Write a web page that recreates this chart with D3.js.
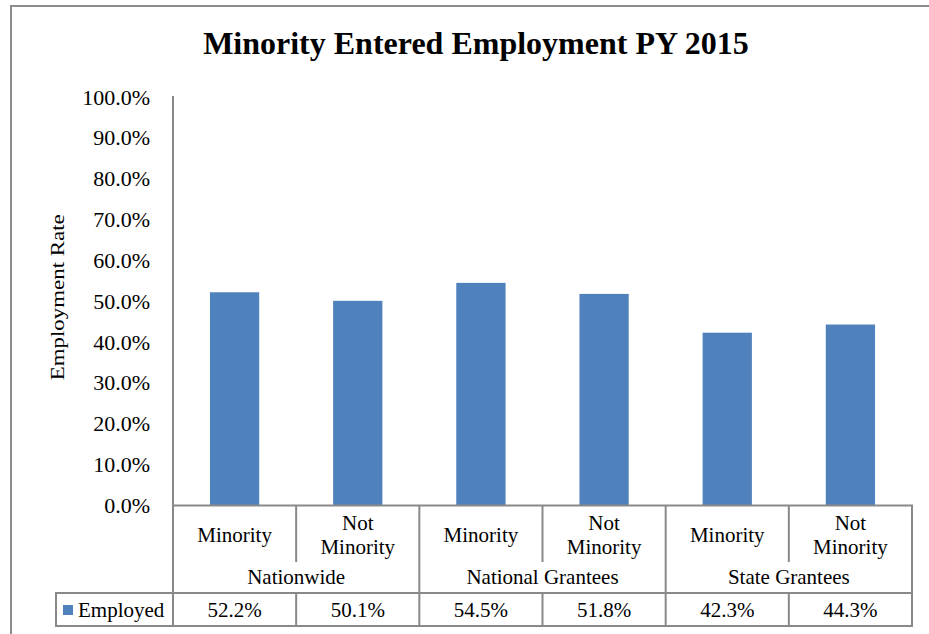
<!DOCTYPE html>
<html>
<head>
<meta charset="utf-8">
<script src="https://cdn.jsdelivr.net/npm/d3@7/dist/d3.min.js"></script>
<style>
  html, body { margin: 0; padding: 0; background: #fff; }
  svg { display: block; }
  text { font-family: "Liberation Serif", "Times New Roman", serif; fill: #000; }
</style>
</head>
<body>
<svg id="chart" width="929" height="634"></svg>
<script>
const title = "Minority Entered Employment PY 2015";
const yAxisTitle = "Employment Rate";
const groups = ["Nationwide", "National Grantees", "State Grantees"];
const subcategories = [["Minority"], ["Not", "Minority"]];
const seriesName = "Employed";
const values = [0.522, 0.501, 0.545, 0.518, 0.423, 0.443];
const valueLabels = ["52.2%", "50.1%", "54.5%", "51.8%", "42.3%", "44.3%"];
const yTicks = [0, 0.1, 0.2, 0.3, 0.4, 0.5, 0.6, 0.7, 0.8, 0.9, 1.0];

const svg = d3.select("#chart");
const W = 929, H = 634;
const plotL = 173, plotR = 912, plotT = 97, plotB = 505.5;
const gridColor = "#898989";
const barColor = "#4F81BD";

// outer frame (partially visible)
svg.append("path")
  .attr("d", `M11,${H} L11,6 L${W},6`)
  .attr("fill", "none").attr("stroke", "#8c8c8c").attr("stroke-width", 2);

const idx = d3.range(values.length);
const x = d3.scaleBand().domain(idx).range([plotL, plotR]).paddingInner(0.6).paddingOuter(0.3);
const y = d3.scaleLinear().domain([0, 1]).range([plotB, plotT]);

// title
svg.append("text")
  .attr("x", 476).attr("y", 54)
  .attr("text-anchor", "middle")
  .attr("font-size", 32).attr("font-weight", "bold")
  .text(title);

// y axis tick labels
const fmt = d3.format(".1%");
svg.append("g").selectAll("text").data(yTicks).join("text")
  .attr("x", 150).attr("y", d => y(d) + 7.5)
  .attr("text-anchor", "end").attr("font-size", 22)
  .text(d => fmt(d));

// y axis line
svg.append("line")
  .attr("x1", plotL).attr("x2", plotL)
  .attr("y1", y(1) - 1).attr("y2", plotB)
  .attr("stroke", gridColor).attr("stroke-width", 2);

// y axis title
svg.append("text")
  .attr("transform", `translate(64,${(y(0) + y(1)) / 2 - 4}) rotate(-90)`)
  .attr("text-anchor", "middle").attr("font-size", 19)
  .attr("textLength", 166).attr("lengthAdjust", "spacingAndGlyphs")
  .text(yAxisTitle);

// bars
svg.append("g").selectAll("rect").data(idx).join("rect")
  .attr("x", i => x(i)).attr("width", x.bandwidth())
  .attr("y", i => y(values[i])).attr("height", i => y(0) - y(values[i]))
  .attr("fill", barColor);

// data table
const step = x.step();
const cellL = i => plotL + i * step;
const rowTop = plotB, rowSub = 562, rowGrp = 593, rowEnd = 626, legendL = 56;
const tbl = svg.append("g").attr("stroke", gridColor).attr("stroke-width", 2).attr("fill", "none");
const line = (x1, y1, x2, y2) => tbl.append("line").attr("x1", x1).attr("y1", y1).attr("x2", x2).attr("y2", y2);

line(plotL - 1, rowTop, plotR + 1, rowTop);
line(legendL - 1, rowGrp, plotR + 1, rowGrp);
line(legendL - 1, rowEnd, plotR + 1, rowEnd);
line(legendL, rowGrp, legendL, rowEnd);
for (let i = 0; i <= values.length; i++) {
  const xx = cellL(i);
  if (i % 2 === 0) line(xx, rowTop, xx, rowEnd);
  else { line(xx, rowTop, xx, rowSub); line(xx, rowGrp, xx, rowEnd); }
}

// category labels
idx.forEach(i => {
  const lines = subcategories[i % 2];
  const cx = cellL(i) + step / 2;
  const baselines = lines.length === 1 ? [542] : [530, 554];
  lines.forEach((t, k) => {
    svg.append("text").attr("x", cx).attr("y", baselines[k])
      .attr("text-anchor", "middle").attr("font-size", 21).text(t);
  });
  svg.append("text").attr("x", cx).attr("y", 617)
    .attr("text-anchor", "middle").attr("font-size", 21).text(valueLabels[i]);
});

// group labels
groups.forEach((g, j) => {
  svg.append("text").attr("x", cellL(2 * j) + step).attr("y", 584)
    .attr("text-anchor", "middle").attr("font-size", 21).text(g);
});

// legend key in table
svg.append("rect").attr("x", 63).attr("y", 605).attr("width", 10).attr("height", 10).attr("fill", barColor);
svg.append("text").attr("x", 78).attr("y", 617).attr("font-size", 21).text(seriesName);
</script>
</body>
</html>
